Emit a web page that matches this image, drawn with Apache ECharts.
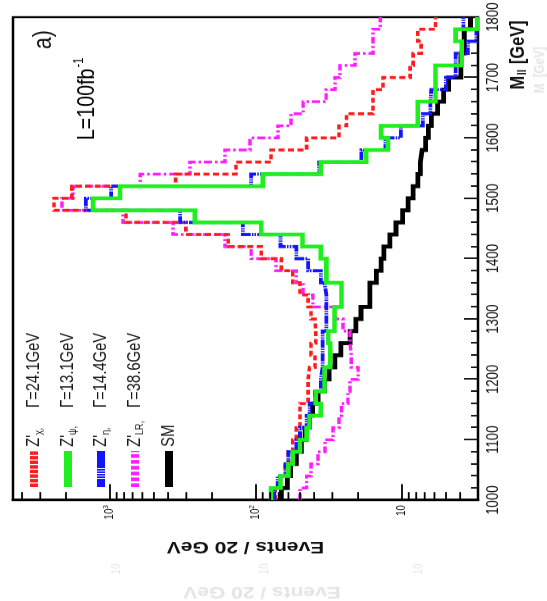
<!DOCTYPE html>
<html>
<head>
<meta charset="utf-8">
<title>Dilepton invariant mass spectra</title>
<script src="https://cdn.jsdelivr.net/npm/echarts/dist/echarts.min.js"></script>
<style>
  html, body { margin: 0; padding: 0; background: #fff; overflow: hidden; width: 547px; height: 601px; }
  /* The plot is laid out landscape, squeezed along its mass axis and turned a quarter turn counter-clockwise. */
  #chart { position: absolute; left: 0; top: 0; width: 733px; height: 547px;
           transform-origin: 0 0; transform: translateY(601px) rotate(-90deg) scaleX(0.82); }
</style>
</head>
<body>
<div id="chart"></div>
<script>
// Bin edges of the dilepton mass histograms (GeV), 20 GeV bins
const MASS_EDGES = [1000, 1020, 1040, 1060, 1080, 1100, 1120, 1140, 1160, 1180,
                    1200, 1220, 1240, 1260, 1280, 1300, 1320, 1340, 1360, 1380,
                    1400, 1420, 1440, 1460, 1480, 1500, 1520, 1540, 1560, 1580,
                    1600, 1620, 1640, 1660, 1680, 1700, 1720, 1740, 1760, 1780, 1800];

// Events / 20 GeV in each bin, L = 100 fb^-1
const Z_CHI = [74, 68, 63, 60, 56, 53, 50, 50, 44, 44,
               43, 39.5, 42, 39, 39.5, 42, 44, 50, 56, 67,
               92, 155, 302, 776, 2415, 1822, 355, 137, 79, 45,
               27, 24, 15.8, 15.8, 13.5, 8.8, 8.4, 7.4, 7.8, 5.9];
const Z_PSI = [79, 68, 60, 56, 50, 45, 43, 36, 39, 34,
               34, 31, 31, 32, 29, 29, 26, 26, 33, 33,
               36, 48, 92, 262, 1307, 854, 90, 36, 17.6, 12.5,
               13.9, 7.8, 7.8, 5.9, 5.9, 5.9, 3.9, 3.9, 4.3, 3.05];
const Z_ETA = [75, 71, 63, 60, 53, 50, 45, 43, 39.5, 36,
               35, 35, 35, 35, 33, 33, 33, 34, 36, 44,
               53, 68, 123, 331, 1460, 982, 108, 37, 19, 13,
               10.2, 7.2, 6.4, 6.3, 5.0, 4.3, 4.3, 3.55, 3.1, 3.8];
const Z_LR  = [50, 45, 42, 37.6, 33.7, 29.7, 27, 26, 23.5, 22.7,
               20, 22.3, 22.7, 22.7, 25.4, 28.8, 40.8, 47.6, 53, 73,
               108, 163, 370, 814, 2130, 1790, 620, 283, 163, 110,
               70.7, 57.6, 47.6, 33.1, 28.8, 26.6, 21, 15.8, 15.8, 14.1];
const SM_DY = [67, 61, 58, 53, 49, 46, 43, 41, 37.6, 34,
               31.6, 28.8, 26.2, 22.7, 20.7, 19.1, 16.6, 16.6, 15, 13.9,
               13.3, 12.1, 11, 9.9, 9.1, 8.4, 7.8, 7.5, 7.3, 6.9,
               6.6, 6.3, 5.7, 5.2, 4.8, 3.95, 3.95, 3.75, 3.75, 3.4];

// Legend texts: name, width of the resonance, and the labelled decades of the event axis
const SERIES_NAMES = ["Z'χ", "Z'ψ", "Z'η", "Z'LR", "SM"];
const SUBSCRIPTS   = ["χ,", "ψ,", "η,", "LR,", ""];
const WIDTHS       = ["Γ=24.1GeV", "Γ=13.1GeV", "Γ=14.4GeV", "Γ=38.6GeV", ""];
const EVENT_LABELS = { 1: "{b|10}", 2: "{b|10}{sup|2}", 3: "{b|10}{sup|3}" };
const MINOR_EVENT_TICKS = [4, 5, 6, 7, 8, 9, 20, 30, 40, 50, 60, 70, 80, 90,
                           200, 300, 400, 500, 600, 700, 800, 900, 2000, 3000, 4000];

const FONT = '"Liberation Sans", Arial, Helvetica, sans-serif';

// Step histogram: each bin holds its value until the next edge
function histo(vals) {
  return MASS_EDGES.map((m, i) => [m, vals[Math.min(i, vals.length - 1)]]);
}

const STYLES = [
  { data: Z_CHI, color: '#ff1c1c', width: 3.6, type: [6, 3.5],                       legendType: [4.3, 1.3] },
  { data: Z_PSI, color: '#1fee1f', width: 4.6, type: 'solid',                         legendType: 'solid' },
  { data: Z_ETA, color: '#1414ff', width: 3.8, type: [10, 1.2, 1.5, 1.2, 1.5, 1.2],  legendType: [10, 1, 2, 1, 2, 1, 2, 1, 2, 1, 60, 0] },
  { data: Z_LR,  color: '#ff1cff', width: 3.4, type: [8, 3, 2.5, 3],                  legendType: [4.5, 2.6] },
  { data: SM_DY, color: '#000000', width: 4.8, type: 'solid',                         legendType: 'solid' }
];
// Drawing order: background first, the narrow resonances on top
const DRAW_ORDER = [4, 3, 0, 2, 1];
const LEGEND_CENTERS = [37, 71, 104, 138, 172];

const richLegend = {
  z:   { fontFamily: FONT, fontSize: 18, color: '#1a1a1a', lineHeight: 24 },
  s:   { fontFamily: FONT, fontSize: 11, color: '#1a1a1a', width: 33, padding: [10, 0, 0, 0] },
  g:   { fontFamily: FONT, fontSize: 18, color: '#1a1a1a', lineHeight: 24 }
};

const chart = echarts.init(document.getElementById('chart'), null, { renderer: 'canvas' });

const series = [{
  type: 'custom',
  silent: true,
  clip: false,
  z: 6,
  data: MINOR_EVENT_TICKS.map(v => [1000, v]),
  renderItem: (params, api) => {
    const c = api.coord([api.value(0), api.value(1)]);
    return { type: 'line', shape: { x1: c[0], y1: c[1], x2: c[0] + 9.8, y2: c[1] },
             style: { stroke: '#000', lineWidth: 1.8 } };
  }
}];
DRAW_ORDER.forEach((k, n) => {
  const st = STYLES[k];
  series.push({
    name: SERIES_NAMES[k],
    type: 'line',
    step: 'end',
    data: histo(st.data),
    symbol: 'none',
    silent: true,
    z: 2 + n * 0.01,
    lineStyle: { color: st.color, width: st.width, type: st.type, cap: 'butt', join: 'miter' },
    itemStyle: { color: st.color }
  });
});

const legends = SERIES_NAMES.map((name, i) => ({
  data: [name],
  left: 135,
  top: LEGEND_CENTERS[i] - 12,
  orient: 'horizontal',
  padding: 0,
  itemWidth: 44,
  itemHeight: 8,
  selectedMode: false,
  itemStyle: { opacity: 0 },
  lineStyle: { width: 8, type: STYLES[i].legendType, cap: 'butt' },
  textStyle: { fontFamily: FONT, fontSize: 18, color: '#1a1a1a', rich: richLegend },
  formatter: () => {
    if (i === 4) return '{z|SM}';
    return "{z|Z'}{s|" + SUBSCRIPTS[i] + "}{g|" + WIDTHS[i] + "}";
  }
}));

const ghostStyle = (text, font, align) => ({
  text: text, font: font, fill: 'rgba(120,120,120,0.16)', align: align, verticalAlign: 'middle',
  textShadowColor: 'rgba(120,120,120,0.35)', textShadowBlur: 3
});

const option = {
  animation: false,
  backgroundColor: '#fff',
  grid: { left: 123, right: 21, top: 13, bottom: 69, show: true, borderColor: '#000', borderWidth: 2.4,
          containLabel: false, outerBoundsMode: 'none' },
  xAxis: {
    type: 'value', min: 1000, max: 1800, interval: 100,
    axisLine: { onZero: false, lineStyle: { color: '#000', width: 2 } },
    axisTick: { inside: true, length: 14, lineStyle: { color: '#000', width: 1.8 } },
    minorTick: { show: true, splitNumber: 5, length: 7, lineStyle: { color: '#000', width: 1.8 } },
    splitLine: { show: false },
    axisLabel: { margin: 8, fontFamily: FONT, fontSize: 16, color: '#111', showMinLabel: true, showMaxLabel: true,
                 formatter: v => String(Math.round(v)) },
    name: '{m|M}{s|ll} {m|[GeV]}',
    nameLocation: 'end',
    nameGap: -4,
    nameMoveOverlap: false,
    nameTextStyle: {
      align: 'right', verticalAlign: 'top', padding: [28, 0, 0, 0],
      fontFamily: FONT, fontSize: 20, fontWeight: 'bold', color: '#111',
      rich: {
        m: { fontFamily: FONT, fontSize: 20, fontWeight: 'bold', color: '#111', lineHeight: 24 },
        s: { fontFamily: FONT, fontSize: 12, fontWeight: 'bold', color: '#111', padding: [10, 1, 0, 1] }
      }
    }
  },
  yAxis: {
    type: 'log', logBase: 10, min: 3.02, max: 4613,
    axisLine: { lineStyle: { color: '#000', width: 2.8 } },
    axisTick: { inside: true, length: 19.5, lineStyle: { color: '#000', width: 1.8 } },
    splitLine: { show: false },
    axisLabel: {
      margin: 6, fontFamily: FONT, fontSize: 12, color: '#111',
      formatter: v => {
        const e = Math.round(Math.log10(v));
        return (Math.abs(Math.log10(v) - e) < 1e-6 && EVENT_LABELS[e]) ? EVENT_LABELS[e] : '';
      },
      rich: {
        b:   { fontFamily: FONT, fontSize: 12, color: '#111' },
        sup: { fontFamily: FONT, fontSize: 8, color: '#111', padding: [0, 0, 8, 0] }
      }
    },
    name: 'Events / 20 GeV',
    nameLocation: 'middle',
    nameGap: 46,
    nameMoveOverlap: false,
    nameTextStyle: { fontFamily: FONT, fontSize: 21, fontWeight: 'bold', color: '#111' }
  },
  legend: legends,
  series: series,
  graphic: { elements: [
    { type: 'text', x: 673, y: 44, silent: true,
      style: { text: 'a)', font: '26px ' + FONT, fill: '#111', verticalAlign: 'middle' } },
    { type: 'text', x: 562, y: 87, silent: true,
      style: { text: '{m|L=100fb}{sup|-1}', verticalAlign: 'middle',
               rich: { m: { fontFamily: FONT, fontSize: 24, color: '#111' },
                       sup: { fontFamily: FONT, fontSize: 14, color: '#111', padding: [0, 0, 15, 1] } } } },
    // faint offset print of the axis titles and labels
    { type: 'text', x: 11, y: 262, rotation: Math.PI / 2, silent: true,
      style: ghostStyle('Events / 20 GeV', 'bold 21px ' + FONT, 'center') },
    { type: 'text', x: 39, y: 117, silent: true, style: ghostStyle('10', '12px ' + FONT, 'center') },
    { type: 'text', x: 39, y: 265, silent: true, style: ghostStyle('10', '12px ' + FONT, 'center') },
    { type: 'text', x: 39, y: 419, silent: true, style: ghostStyle('10', '12px ' + FONT, 'center') },
    { type: 'text', x: 676, y: 540, silent: true, style: ghostStyle('M  [GeV]', 'bold 14px ' + FONT, 'right') }
  ] }
};

chart.setOption(option);
</script>
</body>
</html>
